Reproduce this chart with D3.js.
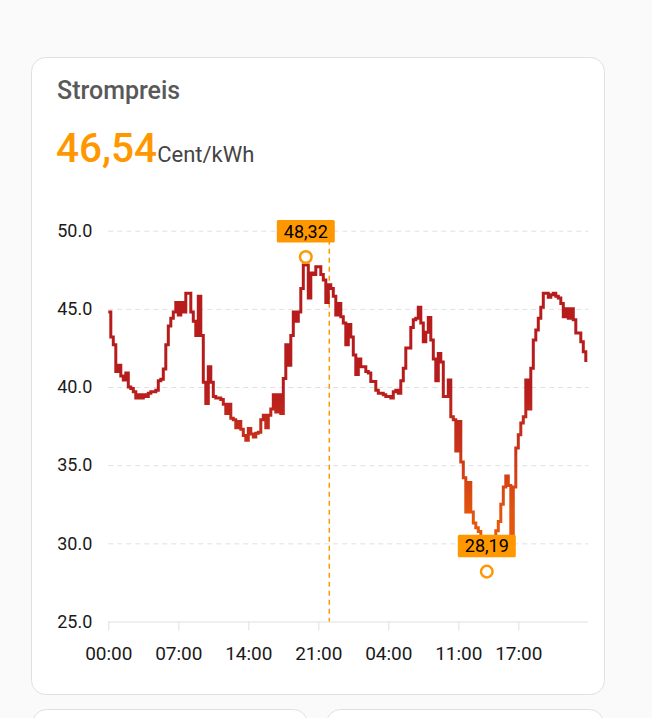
<!DOCTYPE html>
<html>
<head>
<meta charset="utf-8">
<script src="https://cdn.jsdelivr.net/npm/d3@7/dist/d3.min.js"></script>
<style>
  html, body { margin: 0; padding: 0; background: #fafafa; }
  svg { display: block; }
</style>
</head>
<body>
<svg id="chart" width="652" height="718"></svg>
<script>
// ---- data ----
const title = "Strompreis";
const currentValue = "46,54";
const unit = "Cent/kWh";
const stepMinutes = 15;
// quarter-hour prices (Cent/kWh), 48 hours, one row per hour
const prices = [
  44.8, 43.2, 42.7, 41.0,
  41.4, 40.7, 40.45, 40.9,
  40.0, 39.9, 39.7, 39.3,
  39.5, 39.3, 39.5, 39.4,
  39.6, 39.7, 39.7, 39.8,
  40.4, 40.5, 41.15, 42.7,
  43.9, 44.4, 44.8, 45.4,
  44.6, 45.4, 44.8, 46.0,
  46.0, 44.8, 44.2, 43.3,
  45.8, 43.3, 40.3, 38.95,
  41.3, 40.3, 39.4, 39.3,
  39.3, 39.2, 38.9, 38.3,
  38.9, 38.0, 37.9, 37.4,
  37.8, 37.3, 36.9, 36.6,
  37.35, 37.0, 36.8, 37.05,
  37.1, 37.9, 38.2, 37.4,
  38.2, 38.6, 39.5, 38.4,
  39.5, 38.3, 40.55, 42.7,
  41.4, 43.3, 44.8, 44.2,
  44.8, 46.3, 47.8, 47.8,
  45.7, 47.3, 47.2, 47.7,
  47.7, 47.2, 46.85, 45.4,
  46.54, 46.3, 45.8, 44.6,
  45.35, 44.5, 44.1, 42.7,
  44.0, 43.2, 42.05, 40.8,
  41.8, 41.3, 41.3, 41.0,
  40.9, 40.35, 40.35, 39.8,
  39.6, 39.6, 39.5, 39.4,
  39.4, 39.3, 39.7, 39.8,
  39.6, 40.4, 41.2, 42.5,
  42.5, 43.8, 44.3, 44.4,
  45.1, 44.1, 42.9, 43.5,
  44.45, 43.0, 41.8, 40.4,
  42.15, 41.6, 39.4, 39.4,
  40.45, 38.1, 37.9, 35.9,
  37.8, 35.2, 34.2, 32.0,
  33.9, 32.0, 31.3, 31.0,
  30.75, 30.2, 30.0, 30.1,
  30.2, 30.3, 30.4, 30.8,
  31.4, 32.5, 33.6, 34.3,
  33.7, 30.3, 33.6, 36.1,
  36.95, 37.7, 38.1, 40.45,
  38.6, 41.2, 43.0, 43.65,
  44.4, 45.1, 46.0, 46.0,
  45.75, 45.9, 46.0, 45.8,
  45.7, 45.35, 44.5, 45.0,
  44.4, 45.0, 44.3, 43.45,
  43.45, 42.9, 42.25, 41.6
];
const xTickHours = [0, 7, 14, 21, 28, 35, 41];
const xTickLabels = ["00:00", "07:00", "14:00", "21:00", "04:00", "11:00", "17:00"];
const yTicks = [25, 30, 35, 40, 45, 50];
const nowHour = 22.1;
const maxPoint = { hour: 19.75, value: 48.32, label: "48,32" };
const minPoint = { hour: 37.85, value: 28.19, label: "28,19" };

// ---- layout ----
const svg = d3.select("#chart");
const plot = { left: 108.3, right: 588.3, top: 230.7, bottom: 621.5 };
const x = d3.scaleLinear().domain([0, 48]).range([plot.left, plot.right]);
const y = d3.scaleLinear().domain([25, 50]).range([plot.bottom, plot.top]);

// cards
svg.append("rect").attr("x", 31.5).attr("y", 57.5).attr("width", 573).attr("height", 637)
  .attr("rx", 14).attr("fill", "#fff").attr("stroke", "#e0e0e0").attr("stroke-width", 1);
svg.append("rect").attr("x", 32.5).attr("y", 709.5).attr("width", 275).attr("height", 60)
  .attr("rx", 14).attr("fill", "#fff").attr("stroke", "#e0e0e0");
svg.append("rect").attr("x", 326.5).attr("y", 709.5).attr("width", 277).attr("height", 60)
  .attr("rx", 14).attr("fill", "#fff").attr("stroke", "#e0e0e0");

// header
svg.append("text").attr("x", 57).attr("y", 98.5).text(title)
  .attr("font-family", "Roboto, sans-serif").attr("font-size", 25).attr("font-weight", 500)
  .attr("fill", "#595959");
const hv = svg.append("text").attr("x", 56).attr("y", 162)
  .attr("font-family", "Roboto, sans-serif");
hv.append("tspan").text(currentValue).attr("font-size", 40.5).attr("font-weight", 500).attr("fill", "#ff9800");
hv.append("tspan").text(unit).attr("font-size", 22).attr("fill", "#444");

const fontChart = "Roboto, Arial, sans-serif";

// grid
const grid = svg.append("g").attr("transform", `translate(${plot.left},0)`)
  .call(d3.axisLeft(y).tickValues(yTicks.filter(v => v > 25)).tickSize(-(plot.right - plot.left)).tickFormat(""));
grid.select(".domain").remove();
grid.selectAll("line").attr("stroke", "#e0e0e0").attr("stroke-dasharray", "5,4").attr("stroke-width", 1);

// y labels
const yAxis = svg.append("g").attr("transform", `translate(${plot.left},0)`)
  .call(d3.axisLeft(y).tickValues(yTicks).tickSize(0).tickPadding(16).tickFormat(d3.format(".1f")));
yAxis.select(".domain").remove();
yAxis.selectAll("text").attr("font-family", fontChart).attr("font-size", 18).attr("fill", "#1a1a1a");

// x axis
const xAxis = svg.append("g").attr("transform", `translate(0,${plot.bottom})`)
  .call(d3.axisBottom(x).tickValues(xTickHours).tickSize(9).tickFormat((d, i) => xTickLabels[i]));
xAxis.select(".domain").attr("stroke", "#e0e0e0").attr("d", `M${plot.left},0.5H${plot.right}`);
xAxis.selectAll("line").attr("stroke", "#e0e0e0");
xAxis.selectAll("text").attr("y", 38.5).attr("dy", 0).attr("font-family", fontChart)
  .attr("font-size", 19).attr("fill", "#1a1a1a");

// now line
svg.append("line").attr("x1", x(nowHour)).attr("x2", x(nowHour))
  .attr("y1", plot.top).attr("y2", plot.bottom)
  .attr("stroke", "#ff9800").attr("stroke-width", 1.5).attr("stroke-dasharray", "5,4");

// gradient
const defs = svg.append("defs");
const grad = defs.append("linearGradient").attr("id", "lineGrad")
  .attr("gradientUnits", "userSpaceOnUse").attr("x1", 0).attr("x2", 0)
  .attr("y1", y(50)).attr("y2", y(25));
[[50, "#b71c1c"], [40, "#b71c1c"], [36, "#c9341a"], [32, "#e2540e"], [25, "#f06a00"]]
  .forEach(([v, c]) => grad.append("stop").attr("offset", (50 - v) / 25).attr("stop-color", c));

const data = prices.map((v, i) => ({ t: i * stepMinutes / 60, v }));
const line = d3.line().x(d => x(d.t)).y(d => y(d.v)).curve(d3.curveStepAfter);
svg.append("path").datum(data).attr("d", line).attr("fill", "none")
  .attr("stroke", "url(#lineGrad)").attr("stroke-width", 3).attr("stroke-linejoin", "miter");

// annotations
function annot(p) {
  const cx = x(p.hour), cy = y(p.value);
  svg.append("circle").attr("cx", cx).attr("cy", cy).attr("r", 5.8)
    .attr("fill", "#fff").attr("stroke", "#ff9800").attr("stroke-width", 2.5);
  const w = 58, h = 22.5;
  svg.append("rect").attr("x", cx - w / 2).attr("y", cy - 14.5 - h).attr("width", w).attr("height", h)
    .attr("fill", "#ff9800").attr("rx", 1.5);
  svg.append("text").attr("x", cx).attr("y", cy - 14.5 - h / 2).attr("dy", "0.36em")
    .attr("text-anchor", "middle").attr("font-family", fontChart).attr("font-size", 18)
    .attr("fill", "#000").text(p.label);
}
annot(maxPoint);
annot(minPoint);
</script>
</body>
</html>
